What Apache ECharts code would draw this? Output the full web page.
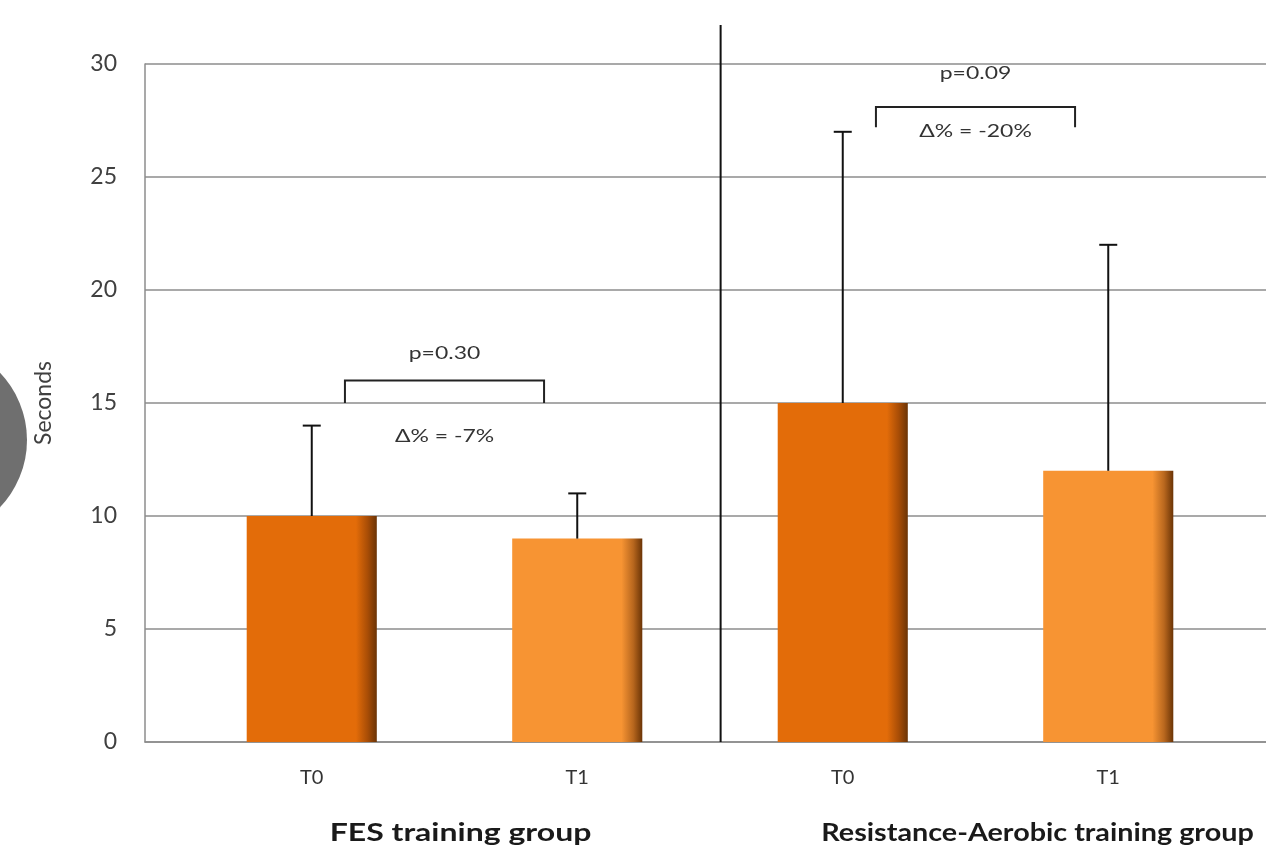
<!DOCTYPE html>
<html>
<head>
<meta charset="utf-8">
<script src="https://cdn.jsdelivr.net/npm/echarts@6/dist/echarts.min.js"></script>
<style>
  html, body { margin: 0; padding: 0; background: #fff; }
  #chart { width: 1266px; height: 847px; }
</style>
</head>
<body>
<div id="chart"></div>
<script>
// data
const categories = ["T0", "T1", "T0", "T1"];
const means = [10, 9, 15, 12];
const sdUpper = [4, 2, 12, 10];
const groupNames = ["FES training group", "Resistance-Aerobic training group"];
const pValues = ["p=0.30", "p=0.09"];
const deltas = ["Δ% = -7%", "Δ% = -20%"];
const yTicks = [0, 5, 10, 15, 20, 25, 30];

const FONT = "Lato, 'Open Sans', sans-serif";
const darkOrange = "#e36c09";
const lightOrange = "#f79433";
const STRETCH = 1.35; // source picture is wider than tall
const titleStretch = [1.28, 1.15];

function barFill(c, edge) {
  return new echarts.graphic.LinearGradient(0, 0, 1, 0, [
    { offset: 0, color: c },
    { offset: 0.84, color: c },
    { offset: 0.93, color: edge },
    { offset: 1, color: "#6b3406" },
  ]);
}

const chart = echarts.init(document.getElementById("chart"), null, { renderer: "canvas" });

const option = {
  backgroundColor: "#ffffff",
  animation: false,
  grid: [
    { left: 145, right: 0, top: 64, bottom: 105 },
    { left: 179, right: 25, top: 64, bottom: 105 },
  ],
  xAxis: [
    {
      gridIndex: 0,
      type: "category",
      data: [""],
      axisLine: { show: true, lineStyle: { color: "#8c8c8c", width: 1.5 } },
      axisTick: { show: false },
      axisLabel: { show: false },
    },
    {
      gridIndex: 1,
      type: "category",
      data: categories,
      axisLine: { show: false },
      axisTick: { show: false },
      axisLabel: { color: "#333", fontSize: 20, fontFamily: FONT, margin: 26 },
    },
  ],
  yAxis: [
    {
      gridIndex: 0,
      type: "value",
      min: yTicks[0],
      max: yTicks[yTicks.length - 1],
      interval: 5,
      name: "Seconds",
      nameLocation: "middle",
      nameRotate: 90,
      nameGap: 90,
      nameTextStyle: { color: "#404040", fontSize: 23, fontFamily: FONT },
      axisLine: { show: true, lineStyle: { color: "#8c8c8c", width: 1.5 } },
      axisTick: { show: false },
      axisLabel: { color: "#404040", fontSize: 23, fontFamily: FONT, margin: 28 },
      splitLine: { lineStyle: { color: "#8c8c8c", width: 1.5 } },
    },
    {
      gridIndex: 1,
      type: "value",
      min: yTicks[0],
      max: yTicks[yTicks.length - 1],
      interval: 5,
      show: false,
      splitLine: { show: false },
    },
  ],
  series: [
    {
      type: "bar",
      xAxisIndex: 1,
      yAxisIndex: 1,
      barWidth: "49%",
      data: means.map((v, i) => ({
        value: v,
        itemStyle: {
          color: i % 2 === 0 ? barFill(darkOrange, "#a84d06") : barFill(lightOrange, "#b8671e"),
        },
      })),
      z: 2,
    },
    {
      type: "custom",
      xAxisIndex: 1,
      yAxisIndex: 1,
      z: 3,
      data: means.map((m, i) => [i, m, m + sdUpper[i]]),
      renderItem: (params, api) => {
        const base = api.coord([api.value(0), api.value(1)]);
        const top = api.coord([api.value(0), api.value(2)]);
        const w = 9;
        const st = { stroke: "#111", lineWidth: 2 };
        return {
          type: "group",
          children: [
            { type: "line", shape: { x1: base[0], y1: base[1], x2: top[0], y2: top[1] }, style: st },
            { type: "line", shape: { x1: top[0] - w, y1: top[1], x2: top[0] + w, y2: top[1] }, style: st },
          ],
        };
      },
    },
  ],
};

chart.setOption(option);

// annotation geometry built from axis coordinates
const px = (i, v) => chart.convertToPixel({ gridIndex: 1 }, [i, v]);
const step = px(1, 0)[0] - px(0, 0)[0];
const axisY = px(0, 0)[1];

// bracket levels (value units) per group: [top, legBottom, pText, deltaText]
const bracketLevels = [
  [16, 15, 17.2, 13.5],
  [28.1, 27.2, 29.6, 27.0],
];

const graphics = [];

// grey disc at left edge
graphics.push({
  type: "circle",
  shape: { cx: -70, cy: 440, r: 97 },
  style: { fill: "#6f6f6f" },
  z: 10,
});

// separator between groups
const sepX = px(1, 0)[0] + 0.54 * step;
graphics.push({
  type: "line",
  shape: { x1: sepX, y1: 25, x2: sepX, y2: axisY },
  style: { stroke: "#111", lineWidth: 2 },
  z: 10,
});

for (let g = 0; g < 2; g++) {
  const [top, legB, pY, dY] = bracketLevels[g];
  const xl = px(2 * g, 0)[0] + 0.125 * step;
  const xr = px(2 * g + 1, 0)[0] - 0.125 * step;
  const yt = px(0, top)[1];
  const yb = px(0, legB)[1];
  graphics.push({
    type: "polyline",
    shape: { points: [[xl, yb], [xl, yt], [xr, yt], [xr, yb]] },
    style: { stroke: "#222", lineWidth: 2, fill: null },
    z: 10,
  });
  const cx = (xl + xr) / 2;
  graphics.push({
    type: "text",
    x: cx,
    y: px(0, pY)[1],
    scaleX: STRETCH,
    style: { text: pValues[g], fill: "#333", font: "17px " + FONT, align: "center", verticalAlign: "middle" },
    z: 10,
  });
  graphics.push({
    type: "text",
    x: cx,
    y: px(0, dY)[1],
    scaleX: STRETCH,
    style: { text: deltas[g], fill: "#333", font: "17px " + FONT, align: "center", verticalAlign: "middle" },
    z: 10,
  });
  // group title under the axis
  const gx = (px(2 * g, 0)[0] + px(2 * g + 1, 0)[0]) / 2 + (g === 0 ? 16 : 62);
  graphics.push({
    type: "text",
    x: gx,
    y: 833,
    scaleX: titleStretch[g],
    style: { text: groupNames[g], fill: "#1a1a1a", font: "bold 25px " + FONT, align: "center", verticalAlign: "middle" },
    z: 10,
  });
}

chart.setOption({ graphic: graphics });
</script>
</body>
</html>
